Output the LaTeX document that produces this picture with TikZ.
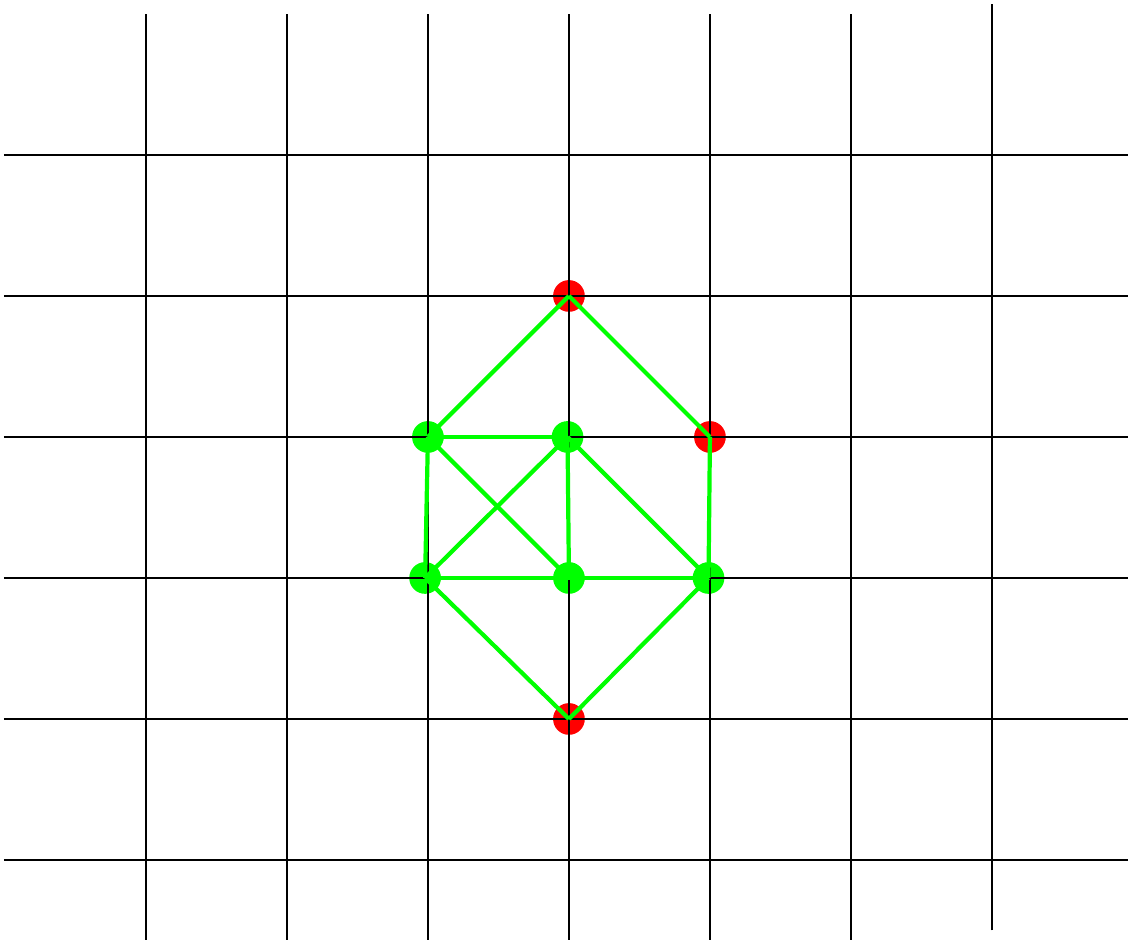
\documentclass[tikz,border=0pt]{standalone}
\usepackage{tikz}
\usetikzlibrary{positioning}
\definecolor{dotRed}{HTML}{FF0000}
\definecolor{edgeGreen}{HTML}{00FF00}
\tikzset{
  gridline/.style={draw=black, line width=0.25pt},
  reddot/.style={circle, fill=dotRed, inner sep=0pt, minimum size=0.225cm},
  greendot/.style={circle, fill=edgeGreen, inner sep=0pt, minimum size=0.225cm},
  edge/.style={draw=edgeGreen, line width=0.85pt}
}
\begin{document}
\begin{tikzpicture}
\useasboundingbox (-0.035,0.433) rectangle (7.965,7.099);
% vertices
\node[reddot] (top) at (4,5) {};
\node[reddot] (right) at (5,4) {};
\node[reddot] (bottom) at (4,2) {};
\node[greendot] (ul) at (3,4) {};
\node[greendot] (um) at (3.99,4) {};
\node[greendot] (ll) at (2.98,3) {};
\node[greendot] (lm) at (4,3) {};
\node[greendot] (lr) at (4.99,3) {};
% grid
\foreach \x in {1,...,6}
  \draw[gridline] (\x,0.433) -- (\x,7);
\draw[gridline] (7,0.5) -- (7,7.07);
\foreach \y in {1,...,6}
  \draw[gridline] (-0.007,\y) -- (7.965,\y);
% edges
\draw[edge] (top.center) -- (ul.center);
\draw[edge] (top.center) -- (right.center);
\draw[edge] (ul.center) -- (um.center);
\draw[edge] (ul.center) -- (ll.center);
\draw[edge] (ul.center) -- (lm.center);
\draw[edge] (um.center) -- (ll.center);
\draw[edge] (um.center) -- (lm.center);
\draw[edge] (um.center) -- (lr.center);
\draw[edge] (right.center) -- (lr.center);
\draw[edge] (ll.center) -- (lm.center);
\draw[edge] (lm.center) -- (lr.center);
\draw[edge] (ll.center) -- (bottom.center);
\draw[edge] (lr.center) -- (bottom.center);
\end{tikzpicture}
\end{document}
